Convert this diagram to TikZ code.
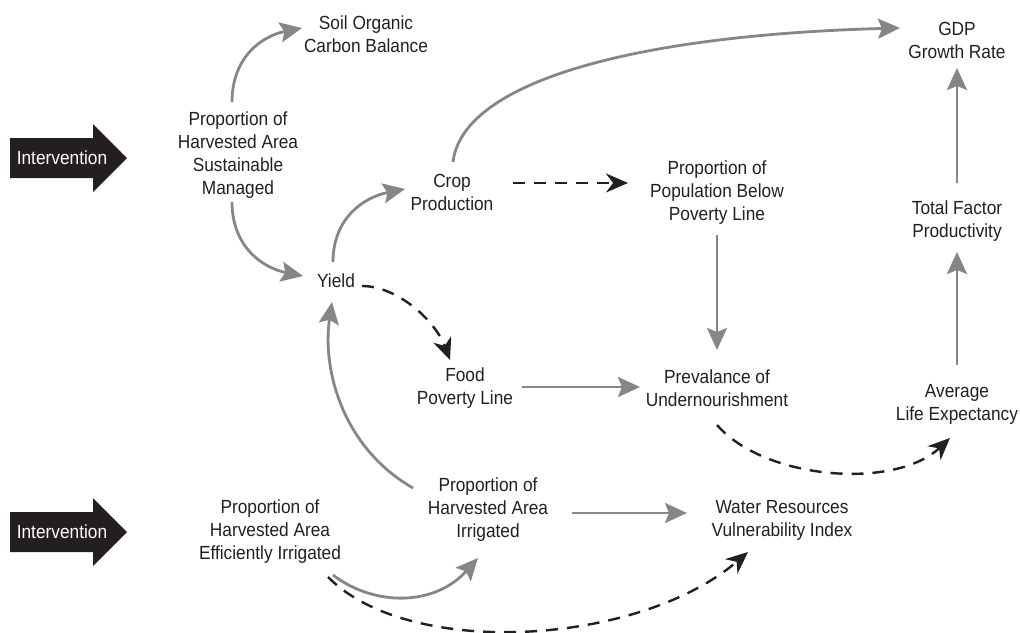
\documentclass[tikz,border=0pt]{standalone}
\usepackage{fontspec}
\setmainfont{Liberation Sans}[FakeStretch=0.91]
\usetikzlibrary{arrows.meta,calc}
\definecolor{linkgray}{HTML}{868686}
\definecolor{ink}{HTML}{231F20}

\begin{document}
\begin{tikzpicture}[x=1pt,y=-1pt,
  var/.style={align=center,font=\fontsize{19}{23}\selectfont,text=ink,inner sep=0pt},
  poslink/.style={draw=linkgray,line width=2.8pt,
    -{Stealth[length=22pt,width=20pt,inset=4pt]}},
  neglink/.style={draw=ink,line width=2.4pt,dash pattern=on 12pt off 9pt,
    -{Stealth[length=22pt,width=19pt,inset=7pt]}},
  lever/.style={fill=ink},
  levertext/.style={font=\fontsize{19}{23}\selectfont,text=white,inner sep=0pt}]

\useasboundingbox (0,0) rectangle (1020,632);

% intervention arrows
\fill[lever] (10,138) -- (93,138) -- (93,124) -- (127,158) -- (93,192) -- (93,178) -- (10,178) -- cycle;
\node[levertext] (int1) at (62,158) {Intervention};
\fill[lever] (10,512) -- (93,512) -- (93,498) -- (127,532) -- (93,566) -- (93,552) -- (10,552) -- cycle;
\node[levertext] (int2) at (62,532) {Intervention};

% variables
\node[var] (soil)  at (366,34)    {Soil Organic\\Carbon Balance};
\node[var] (sust)  at (238,155.5) {Proportion of\\Harvested Area\\Sustainable\\Managed};
\node[var] (crop)  at (452,192)   {Crop\\Production};
\node[var] (yield) at (336,281)   {Yield};
\node[var] (food)  at (465,388)   {Food\\Poverty Line};
\node[var] (pop)   at (717,193)   {Proportion of\\Population Below\\Poverty Line};
\node[var] (prev)  at (717,388)   {Prevalance of\\Undernourishment};
\node[var] (gdp)   at (957,40)    {GDP\\Growth Rate};
\node[var] (tfp)   at (957,221)   {Total Factor\\Productivity};
\node[var] (avg)   at (957,404)   {Average\\Life Expectancy};
\node[var] (irr)   at (488,510)   {Proportion of\\Harvested Area\\Irrigated};
\node[var] (eff)   at (270,532)   {Proportion of\\Harvested Area\\Efficiently Irrigated};
\node[var] (water) at (782,520)   {Water Resources\\Vulnerability Index};

% positive links
\draw[poslink] ($(sust)+(-6,-53.5)$) .. controls +(0,-45) and +(-40,8) .. ($(soil)+(-64,-6)$);
\draw[poslink] ($(sust)+(-6,46.5)$) .. controls +(0,45) and +(-40,-8) .. ($(yield)+(-33,-5)$);
\draw[poslink] ($(yield)+(-3,-19)$) .. controls +(0,-45) and +(-40,8) .. ($(crop)+(-47,-3)$);
\draw[poslink] ($(crop)+(1,-30)$) .. controls +(10,-82) and +(-260,7) .. ($(gdp)+(-57,-12)$);
\draw[poslink] ($(pop)+(0,42)$) -- ($(prev)+(0,-38)$);
\draw[poslink] ($(food)+(57,-1)$) -- ($(prev)+(-77,-1)$);
\draw[poslink] ($(avg)+(0,-39)$) -- ($(tfp)+(0,31)$);
\draw[poslink] ($(tfp)+(0,-38)$) -- ($(gdp)+(0,28)$);
\draw[poslink] ($(irr)+(-75,-22)$) .. controls +(-70,-40) and +(-10,68) .. ($(yield)+(-4,21)$);
\draw[poslink] ($(irr)+(84,3)$) -- ($(water)+(-95,-7)$);
\draw[poslink] ($(eff)+(63,43)$) .. controls +(42,32) and +(-43,48) .. ($(irr)+(-10,48)$);

% negative links
\draw[neglink] ($(crop)+(61,-9)$) -- ($(pop)+(-89,-10)$);
\draw[neglink] ($(yield)+(26,5)$) .. controls +(35,0) and +(-15,-40) .. ($(food)+(-15,-28)$);
\draw[neglink] ($(prev)+(0,37)$) .. controls +(48,55) and +(-55,52) .. ($(avg)+(-7,34)$);
\draw[neglink] ($(eff)+(58,45)$) .. controls +(82,83) and +(-108,93) .. ($(water)+(-34,32)$);
\end{tikzpicture}
\end{document}
